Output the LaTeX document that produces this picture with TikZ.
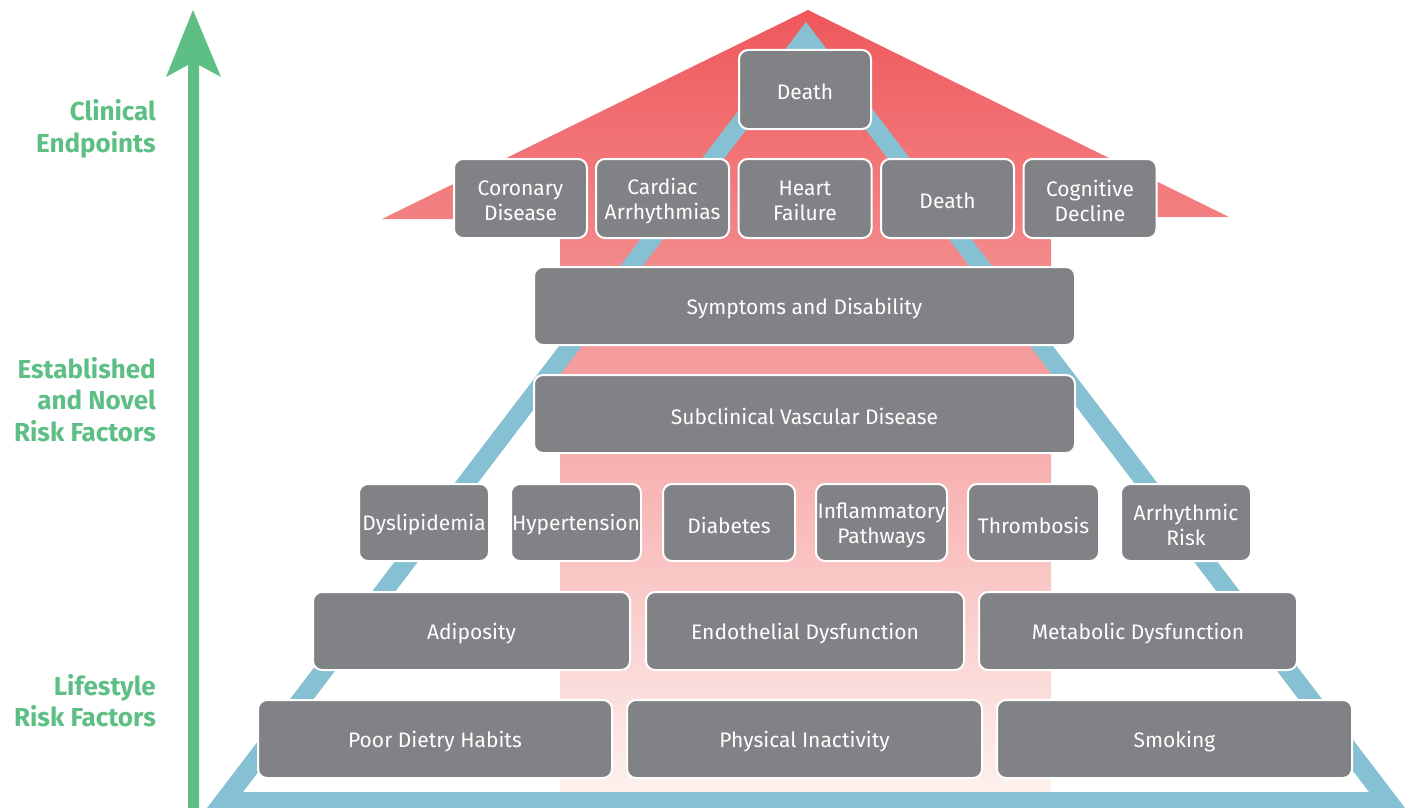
\documentclass[tikz,border=0pt]{standalone}
\usepackage{fontspec}
\setmainfont{Fira Sans}
\definecolor{boxgray}{HTML}{818286}
\definecolor{pyrblue}{HTML}{86C0D3}
\definecolor{lblgreen}{HTML}{5EBF85}
\definecolor{redtop}{HTML}{EF585B}
\definecolor{redmid}{HTML}{F6A394}
\definecolor{redbot}{HTML}{FDF1EE}
\begin{document}
\begin{tikzpicture}[x=1pt,y=-1pt,
  btxt/.style={text=white, align=center, inner sep=0pt, yshift=-2.5pt,
    font=\fontsize{21}{25}\selectfont},
  gbox/.style={rectangle, rounded corners=9pt, fill=boxgray, draw=white,
    line width=2pt, inner sep=0pt, label={[btxt]center:{#1}}},
  lbl/.style={anchor=east, align=right, inner sep=0pt, text=lblgreen,
    font=\fontsize{26}{31.5}\selectfont\bfseries}]
\useasboundingbox (0,0) rectangle (1411,808);
\begin{scope}
\clip (0,0) rectangle (1411,808);
% red house
\shade[top color=redtop, middle color=redmid, bottom color=redbot]
  (382,219) -- (808,10) -- (1229,217) -- (1051,217) -- (1051,792) -- (560,792) -- (560,219) -- cycle;
% blue pyramid outline
\fill[pyrblue, even odd rule] (207,808) -- (806,22) -- (1405,808) -- cycle
  (243,792) -- (806,51) -- (1369,792) -- cycle;
% green arrow
\fill[lblgreen] (188,808) -- (188,65) -- (166,77) -- (193,10) -- (221,77) -- (199,65) -- (199,808) -- cycle;
\end{scope}
% labels
\node[lbl] (l1) at (156,129) {Clinical\\Endpoints};
\node[lbl] (l2) at (156,399.5) {Established\\and Novel\\Risk Factors};
\node[lbl] (l3) at (156,700.5) {Lifestyle\\Risk Factors};
% row 1
\node[gbox={Death}, minimum width=132pt, minimum height=79pt] (d0) at (805,89.5) {};
% row 2
\node[gbox={Coronary\\Disease}, minimum width=133pt, minimum height=79pt] (cd) at (520.5,198.5) {};
\node[gbox={Cardiac\\Arrhythmias}, minimum width=133pt, minimum height=79pt] (ca) at (662.5,198.5) {};
\node[gbox={Heart\\Failure}, minimum width=133pt, minimum height=79pt] (hf) at (805,198.5) {};
\node[gbox={Death}, minimum width=133pt, minimum height=79pt] (d1) at (947.5,198.5) {};
\node[gbox={Cognitive\\Decline}, minimum width=133pt, minimum height=79pt] (cg) at (1090,198.5) {};
% row 3, 4
\node[gbox={Symptoms and Disability}, minimum width=541pt, minimum height=78pt] (sd) at (804.5,306) {};
\node[gbox={Subclinical Vascular Disease}, minimum width=541pt, minimum height=78pt] (sv) at (804.5,414) {};
% row 5
\node[gbox={Dyslipidemia}, minimum width=130pt, minimum height=77pt] (dy) at (424,522.5) {};
\node[gbox={Hypertension}, minimum width=130pt, minimum height=77pt] (hy) at (576,522.5) {};
\node[gbox={Diabetes}, minimum width=132pt, minimum height=77pt] (di) at (729,522.5) {};
\node[gbox={Inflammatory\\Pathways}, minimum width=131pt, minimum height=77pt] (ip) at (881.5,522.5) {};
\node[gbox={Thrombosis}, minimum width=131pt, minimum height=77pt] (th) at (1033.5,522.5) {};
\node[gbox={Arrhythmic\\Risk}, minimum width=130pt, minimum height=77pt] (ar) at (1186,522.5) {};
% row 6
\node[gbox={Adiposity}, minimum width=317pt, minimum height=78pt] (ad) at (471.5,631) {};
\node[gbox={Endothelial Dysfunction}, minimum width=318pt, minimum height=78pt] (ed) at (805,631) {};
\node[gbox={Metabolic Dysfunction}, minimum width=318pt, minimum height=78pt] (md) at (1138,631) {};
% row 7
\node[gbox={Poor Dietry Habits}, minimum width=354pt, minimum height=78pt] (pd) at (435,739) {};
\node[gbox={Physical Inactivity}, minimum width=355pt, minimum height=78pt] (pi) at (804.5,739) {};
\node[gbox={Smoking}, minimum width=355pt, minimum height=78pt] (sm) at (1174.5,739) {};
\end{tikzpicture}
\end{document}
